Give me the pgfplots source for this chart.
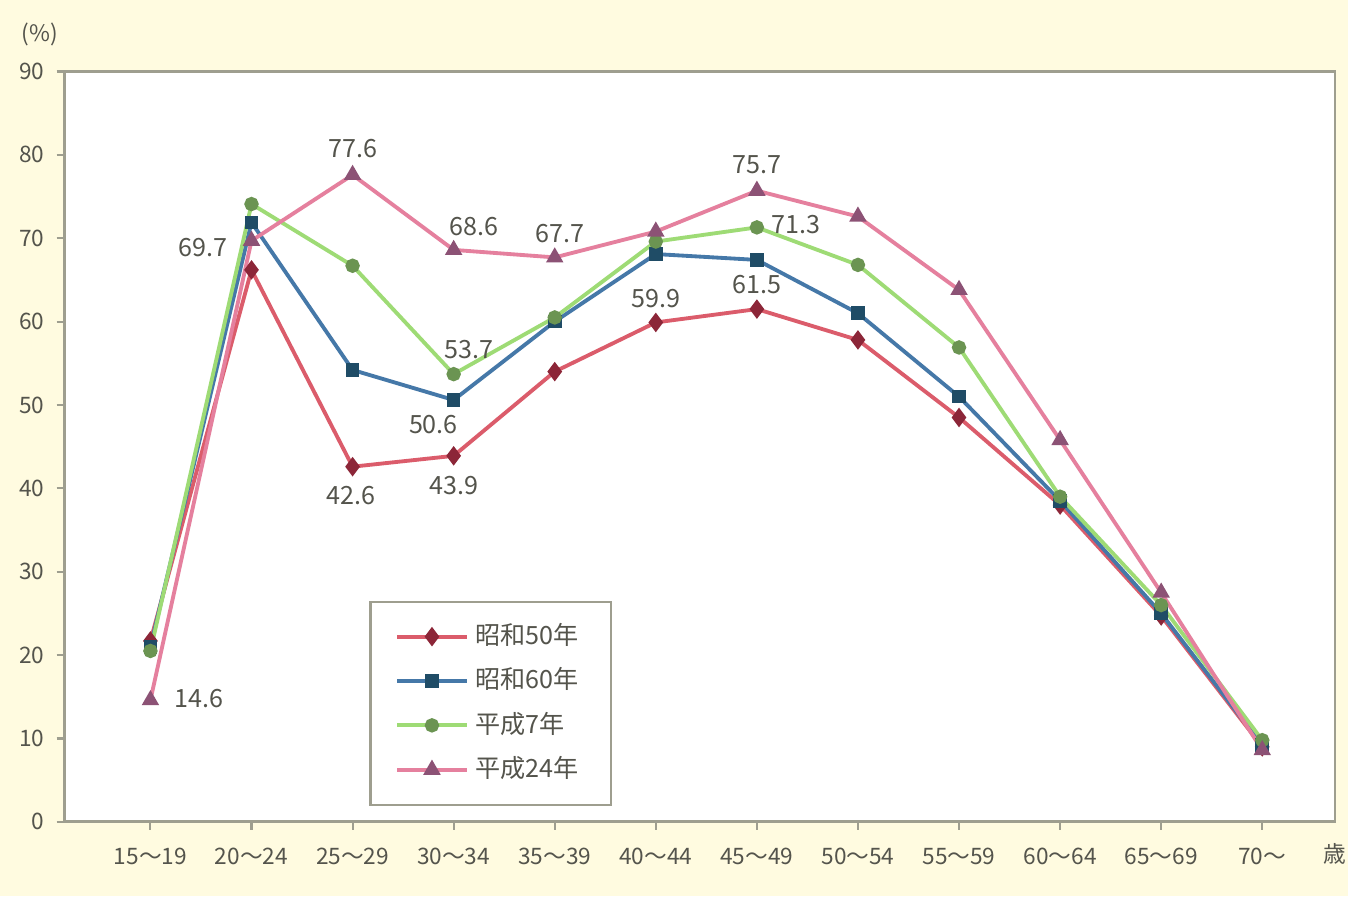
\documentclass[border=0pt]{standalone}
\usepackage{pgfplots}
\pgfplotsset{compat=1.18}
\usepackage{fontspec}
\setmainfont{Noto Sans CJK JP}
\definecolor{bgyel}{rgb}{1.0,0.985,0.88}
\definecolor{txtg}{rgb}{0.33,0.33,0.30}
\definecolor{axg}{rgb}{0.62,0.62,0.56}
\definecolor{redl}{rgb}{0.86,0.36,0.42}
\definecolor{redm}{rgb}{0.55,0.15,0.22}
\definecolor{bluel}{rgb}{0.27,0.47,0.66}
\definecolor{bluem}{rgb}{0.12,0.30,0.40}
\definecolor{greenl}{rgb}{0.62,0.86,0.46}
\definecolor{greenm}{rgb}{0.42,0.58,0.32}
\definecolor{pinkl}{rgb}{0.90,0.50,0.62}
\definecolor{pinkm}{rgb}{0.55,0.32,0.46}
\begin{document}
\begin{tikzpicture}
\fill[bgyel] (0,0) rectangle (13.58cm,9.03cm);
\begin{axis}[
  at={(0.65cm,0.75cm)}, anchor=south west,
  scale only axis, width=12.8cm, height=7.56cm,
  xmin=-0.85, xmax=11.72, ymin=0, ymax=90,
  axis background/.style={fill=white},
  axis line style={axg, line width=0.8pt},
  xtick={0,...,11},
  xticklabels={15～19,20～24,25～29,30～34,35～39,40～44,45～49,50～54,55～59,60～64,65～69,70～},
  ytick={0,10,...,90},
  tick style={axg, line width=0.6pt},
  major tick length=0.8mm,
  tick align=outside,
  xtick pos=bottom, ytick pos=left,
  /pgf/number format/assume math mode=true,
  ticklabel style={font=\fontsize{6.5}{7}\selectfont, text=txtg},
  xticklabel style={yshift=-0.6mm},
  legend style={at={(0.24,0.295)}, anchor=north west, draw=axg, line width=0.6pt,
    font=\fontsize{7.2}{8}\selectfont, text=txtg, row sep=0.4mm,
    inner xsep=2.5mm, inner ysep=1.5mm},
  legend cell align=left,
  legend image code/.code={\draw[#1] (0mm,0mm) -- (7mm,0mm); \draw[#1, mark repeat=2, mark phase=2] plot coordinates {(0mm,0mm) (3.5mm,0mm) (7mm,0mm)};},
  clip=false,
]
\addplot[redl, line width=1.1pt, mark=diamond*, mark size=1.9pt, mark options={fill=redm, draw=redm}] coordinates {
(0,21.7) (1,66.2) (2,42.6) (3,43.9) (4,54.0) (5,59.9) (6,61.5) (7,57.8) (8,48.5) (9,38.0) (10,24.7) (11,9.0)};
\addlegendentry{昭和50年}
\addplot[bluel, line width=1.1pt, mark=square*, mark size=1.4pt, mark options={fill=bluem, draw=bluem}] coordinates {
(0,21.0) (1,71.9) (2,54.2) (3,50.6) (4,60.0) (5,68.1) (6,67.4) (7,61.0) (8,51.0) (9,38.5) (10,25.0) (11,9.2)};
\addlegendentry{昭和60年}
\addplot[greenl, line width=1.1pt, mark=*, mark size=1.5pt, mark options={fill=greenm, draw=greenm}] coordinates {
(0,20.5) (1,74.1) (2,66.7) (3,53.7) (4,60.5) (5,69.6) (6,71.3) (7,66.8) (8,56.9) (9,39.0) (10,26.0) (11,9.8)};
\addlegendentry{平成7年}
\addplot[pinkl, line width=1.1pt, mark=triangle*, mark size=1.8pt, mark options={fill=pinkm, draw=pinkm}] coordinates {
(0,14.6) (1,69.7) (2,77.6) (3,68.6) (4,67.7) (5,70.8) (6,75.7) (7,72.6) (8,63.8) (9,45.8) (10,27.5) (11,8.6)};
\addlegendentry{平成24年}
% data labels
\begin{scope}[every node/.style={font=\fontsize{7.2}{8}\selectfont, text=txtg, inner sep=1pt}]
\node[anchor=west] at (axis cs:0.2,14.8) {14.6};
\node[anchor=east] at (axis cs:0.8,68.9) {69.7};
\node[anchor=south] at (axis cs:2,79.2) {77.6};
\node[anchor=south] at (axis cs:3.2,69.8) {68.6};
\node[anchor=south] at (axis cs:4.05,69.0) {67.7};
\node[anchor=south] at (axis cs:6,77.2) {75.7};
\node[anchor=west] at (axis cs:6.1,71.6) {71.3};
\node[anchor=south] at (axis cs:3.15,55.0) {53.7};
\node[anchor=north] at (axis cs:2.8,49.3) {50.6};
\node[anchor=north] at (axis cs:1.98,40.8) {42.6};
\node[anchor=north] at (axis cs:3.0,42.0) {43.9};
\node[anchor=south] at (axis cs:5,61.2) {59.9};
\node[anchor=south] at (axis cs:6,62.8) {61.5};
\end{scope}
\end{axis}
\node[font=\fontsize{6.5}{7}\selectfont, text=txtg] at (0.40cm,8.68cm) {(\%)};
\node[font=\fontsize{6.5}{7}\selectfont, text=txtg] at (13.45cm,0.43cm) {歳};
\end{tikzpicture}
\end{document}
